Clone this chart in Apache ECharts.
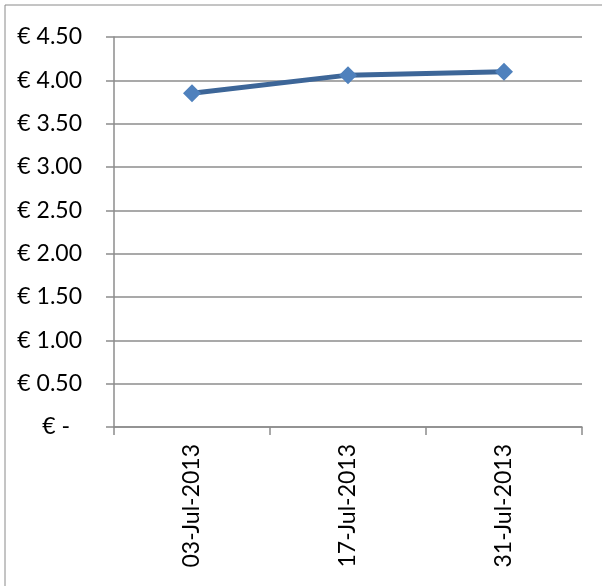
<!DOCTYPE html>
<html>
<head>
<meta charset="utf-8">
<script src="https://cdn.jsdelivr.net/npm/echarts@6/dist/echarts.min.js"></script>
<style>
  html, body { margin: 0; padding: 0; background: #fff; }
  #chart { width: 602px; height: 586px; }
</style>
</head>
<body>
<div id="chart"></div>
<script>
// data
var dates = ['03-Jul-2013', '17-Jul-2013', '31-Jul-2013'];
var prices = [3.85, 4.06, 4.10];

var grey = '#8c8c8c';
var font = 'Lato, "Open Sans", sans-serif';

var mychart = echarts.init(document.getElementById('chart'));
var option = {
    animation: false,
    graphic: [{
        type: 'rect',
        shape: { x: 5, y: 5, width: 700, height: 700 },
        style: { fill: 'none', stroke: '#8a8a8a', lineWidth: 1 }
    }],
    grid: { left: 114, right: 20, top: 37, bottom: 159 },
    xAxis: {
        type: 'category',
        data: dates,
        boundaryGap: true,
        axisLine: { lineStyle: { color: grey, width: 1.5 } },
        axisTick: { show: true, length: 8, interval: 0, lineStyle: { color: grey, width: 1.5 } },
        axisLabel: {
            rotate: 90, interval: 0, margin: 17,
            color: '#000', fontSize: 23, fontFamily: font
        }
    },
    yAxis: {
        type: 'value',
        min: 0, max: 4.5, interval: 0.5,
        axisLine: { show: true, lineStyle: { color: grey, width: 1.5 } },
        axisTick: { show: true, length: 8, lineStyle: { color: grey, width: 1.5 } },
        splitLine: { lineStyle: { color: grey, width: 1.5 } },
        axisLabel: {
            margin: 32, color: '#000', fontSize: 23, fontFamily: font,
            formatter: function (v) {
                if (v === 0) return '{z|€ -}';
                return '€ ' + v.toFixed(2);
            },
            rich: {
                z: { color: '#000', fontSize: 23, fontFamily: font, padding: [0, 12, 0, 0] }
            }
        }
    },
    series: [{
        type: 'line',
        data: prices,
        symbol: 'diamond',
        symbolSize: 18,
        lineStyle: { color: '#3d6698', width: 5 },
        itemStyle: { color: '#4f81bd' }
    }]
};
mychart.setOption(option);
</script>
</body>
</html>
